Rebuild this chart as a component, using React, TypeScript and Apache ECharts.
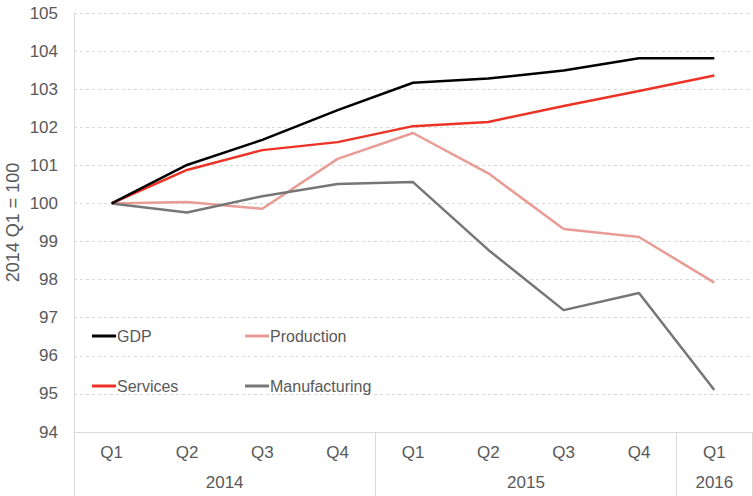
import React, { useEffect, useRef } from "react";
import * as echarts from "echarts";

const quarters = ["Q1", "Q2", "Q3", "Q4", "Q1", "Q2", "Q3", "Q4", "Q1"];
const yearLabels = ["2014", "2015", "2016"];
const yearLabelPositions = [2, 6, 8.5];
const yearSeparators = [0, 4, 8, 9];

const gdp = [100, 101.01, 101.67, 102.45, 103.17, 103.28, 103.49, 103.81, 103.81];
const services = [100, 100.88, 101.4, 101.61, 102.03, 102.14, 102.56, 102.95, 103.36];
const production = [100, 100.04, 99.86, 101.17, 101.85, 100.79, 99.33, 99.12, 97.92];
const manufacturing = [100, 99.76, 100.19, 100.51, 100.56, 98.78, 97.2, 97.65, 95.1];

const FONT = "'Liberation Sans', Arial, sans-serif";
const TXT = "#595959";
const GRID = "#d9d9d9";

export default function App() {
  const ref = useRef<HTMLDivElement>(null);
  useEffect(() => {
    if (!ref.current) return;
    const chart = echarts.init(ref.current, null, { renderer: "svg" });
    const legendBase = (name: string, left: number, top: number) => ({
      data: [name],
      left,
      top,
      padding: 0,
      itemWidth: 24,
      itemHeight: 3,
      itemGap: 0,
      icon: "rect",
      textStyle: { fontFamily: FONT, fontSize: 16, color: TXT, padding: [0, 0, 0, -4] },
      selectedMode: false,
    });
    const lineSeries = (name: string, data: number[], color: string) => ({
      name,
      type: "line",
      data,
      symbol: "none",
      lineStyle: { color, width: 2.5 },
      itemStyle: { color },
      xAxisIndex: 0,
      yAxisIndex: 0,
    });
    chart.setOption({
      animation: false,
      grid: {
        left: 74,
        right: 1,
        top: 13,
        bottom: 64,
        containLabel: false,
        outerBoundsMode: "none",
      },
      legend: [
        legendBase("GDP", 92, 328),
        legendBase("Production", 245, 328),
        legendBase("Services", 92, 378),
        legendBase("Manufacturing", 245, 378),
      ],
      xAxis: [
        {
          type: "category",
          data: quarters,
          boundaryGap: true,
          axisLine: { show: true, lineStyle: { color: GRID, width: 1 } },
          axisTick: { show: false },
          axisLabel: { fontFamily: FONT, fontSize: 17, color: TXT, margin: 12, interval: 0 },
          splitLine: { show: false },
        },
        {
          type: "value",
          min: 0,
          max: 9,
          position: "bottom",
          axisLine: { show: false },
          axisTick: {
            show: true,
            customValues: yearSeparators,
            length: 64,
            lineStyle: { color: GRID, width: 1 },
          },
          axisLabel: {
            show: true,
            customValues: yearLabelPositions,
            fontFamily: FONT,
            fontSize: 17,
            color: TXT,
            margin: 42,
            formatter: (v: number) => {
              const i = yearLabelPositions.indexOf(v);
              return i >= 0 ? yearLabels[i] : "";
            },
          },
          splitLine: { show: false },
        },
      ],
      yAxis: {
        type: "value",
        min: 94,
        max: 105,
        interval: 1,
        name: "2014 Q1 = 100",
        nameLocation: "middle",
        nameGap: 52,
        nameMoveOverlap: false,
        nameTextStyle: { fontFamily: FONT, fontSize: 18, color: TXT },
        axisLine: { show: true, lineStyle: { color: GRID, width: 1 } },
        axisTick: { show: false },
        axisLabel: { fontFamily: FONT, fontSize: 17, color: TXT, margin: 16 },
        splitLine: { show: true, lineStyle: { color: GRID, type: [3, 3], width: 1 } },
      },
      series: [
        lineSeries("Production", production, "#e99c95"),
        lineSeries("Manufacturing", manufacturing, "#767676"),
        lineSeries("Services", services, "#ec3326"),
        lineSeries("GDP", gdp, "#000000"),
      ],
    });
    return () => chart.dispose();
  }, []);
  return (
    <div
      ref={ref}
      style={{ position: "fixed", left: 0, top: 0, width: 753, height: 496, background: "#fff" }}
    />
  );
}
